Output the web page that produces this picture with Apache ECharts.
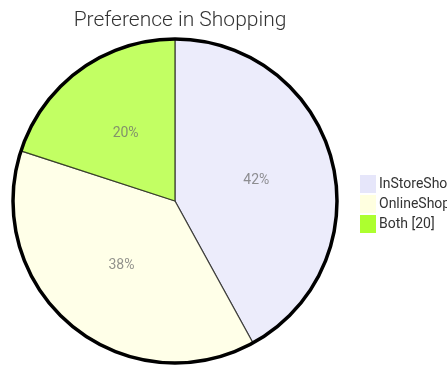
<!DOCTYPE html>
<html>
<head>
<meta charset="utf-8">
<script src="https://cdn.jsdelivr.net/npm/echarts@6/dist/echarts.min.js"></script>
<style>
  html, body { margin: 0; padding: 0; background: #fff; }
  #chart { width: 447px; height: 370px; }
</style>
</head>
<body>
<div id="chart"></div>
<script>
// Shopping preference shares
const categories = ['InStoreShopping', 'OnlineShopping', 'Both'];
const values = [42, 38, 20];
const colors = ['#E6E6FA', '#FFFFE0', '#ADFF2F'];

const chart = echarts.init(document.getElementById('chart'), null, { renderer: 'canvas' });

const sliceData = categories.map((name, i) => ({
  name: name,
  value: values[i],
  itemStyle: { color: colors[i] }
}));

const total = values.reduce((a, b) => a + b, 0);

chart.setOption({
  animation: false,
  title: {
    text: 'Preference in Shopping',
    left: 175,
    textAlign: 'center',
    top: 5,
    textStyle: {
      fontFamily: 'Roboto',
      fontSize: 21,
      fontWeight: 300,
      color: '#333'
    }
  },
  legend: {
    orient: 'vertical',
    left: 355,
    top: 170,
    itemWidth: 16,
    itemHeight: 18,
    itemGap: 2,
    icon: 'rect',
    selectedMode: false,
    data: categories,
    itemStyle: {
      borderWidth: 0,
      opacity: 1
    },
    formatter: function (name) {
      const i = categories.indexOf(name);
      return name + ' [' + values[i] + ']';
    },
    textStyle: {
      fontFamily: 'Roboto',
      fontSize: 14,
      color: '#333',
      padding: [0, 0, 0, -2]
    }
  },
  series: [
    {
      type: 'pie',
      center: [175, 201],
      radius: 162,
      startAngle: 90,
      clockwise: true,
      silent: true,
      itemStyle: {
        opacity: 0.75,
        borderColor: '#222',
        borderWidth: 1.2
      },
      label: {
        show: true,
        position: 'inside',
        fontFamily: 'Roboto',
        fontSize: 14,
        color: '#6e6e6e',
        formatter: function (p) {
          return Math.round(p.value / total * 100) + '%';
        }
      },
      labelLine: { show: false },
      data: sliceData
    },
    {
      // black ring around the pie
      type: 'pie',
      center: [175, 201],
      radius: 162,
      silent: true,
      legendHoverLink: false,
      label: { show: false },
      labelLine: { show: false },
      itemStyle: {
        color: 'rgba(0,0,0,0)',
        borderColor: '#000',
        borderWidth: 3.5
      },
      tooltip: { show: false },
      data: [{ name: '__ring', value: 1 }]
    }
  ]
});
</script>
</body>
</html>
